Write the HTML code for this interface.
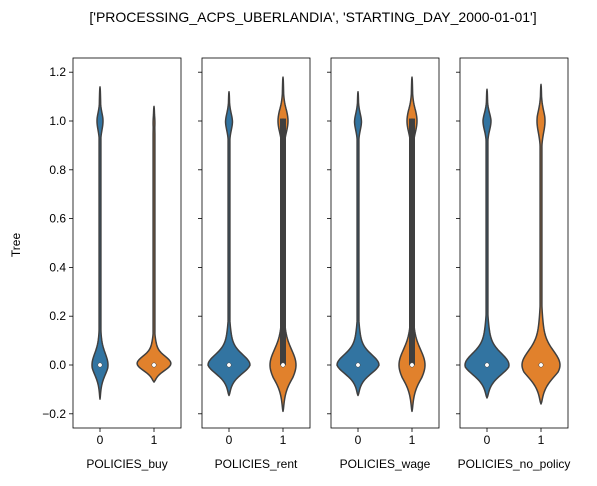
<!DOCTYPE html>
<html><head><meta charset="utf-8"><style>
body{margin:0;background:#fff;font-family:"Liberation Sans","DejaVu Sans",sans-serif}
svg text{font-family:"Liberation Sans","DejaVu Sans",sans-serif;fill:#000}
</style></head><body>
<svg id="chart" width="597" height="481" viewBox="0 0 597 481" xmlns="http://www.w3.org/2000/svg">
<text x="313" y="22" font-size="14" text-anchor="middle">['PROCESSING_ACPS_UBERLANDIA', 'STARTING_DAY_2000-01-01']</text>
<text transform="translate(20,245) rotate(-90)" font-size="12" text-anchor="middle">Tree</text>
</svg>
<script>
// data
const panels = ["POLICIES_buy","POLICIES_rent","POLICIES_wage","POLICIES_no_policy"];
const categories = ["0","1"];
const yTicks = [-0.2,0,0.2,0.4,0.6,0.8,1.0,1.2];
const yTickLabels = ["\u22120.2","0.0","0.2","0.4","0.6","0.8","1.0","1.2"];
// per violin (panel-major: p0c0,p0c1,p1c0,...)
const vMin   = [-0.14,-0.07,-0.125,-0.19,-0.125,-0.19,-0.135,-0.16];
const vMax   = [1.14,1.06,1.12,1.18,1.12,1.18,1.13,1.15];
const dens0  = [8,21,21,13,21,13,22,19];     // density at 0
const sd0    = [0.045,0.028,0.04,0.06,0.04,0.06,0.045,0.055];
const dens1  = [3,1.2,3.5,5,3.5,5,4,4];       // density at 1
const sd1    = [0.035,0.03,0.035,0.045,0.035,0.045,0.035,0.045];
const q1     = [0,0,0,0,0,0,0,0];
const q3     = [0,0,0,1.01,0,1.01,0,0];
const median = [0,0,0,0,0,0,0,0];

const svg=document.getElementById('chart');
const NS='http://www.w3.org/2000/svg';
const plotTop=58,bot=428,pw=108,lefts=[73,202,331,460];
const yS=v=>365-v*244;
function mk(t,a,p){const e=document.createElementNS(NS,t);for(const k in a)e.setAttribute(k,a[k]);(p||svg).appendChild(e);return e;}
function bump(x,s){return 0.75*Math.exp(-x*x/(2*s*s))+0.25*Math.exp(-x*x/(2*5.8*s*s));}
const colors=["#3274a1","#e1812c"];
panels.forEach((pn,pi)=>{
  const L=lefts[pi];
  const g=mk('g',{});
  
  
  categories.forEach((c,ci)=>{
    const i=pi*2+ci, cx=L+pw*(ci*2+1)/4;
    const pts=[];const N=160;
    for(let k=0;k<=N;k++){const v=vMin[i]+(vMax[i]-vMin[i])*k/N;
      let w=dens0[i]*bump(v,sd0[i])+dens1[i]*bump(v-1,sd1[i]);
      const t=Math.min(k,N-k)/N; w=Math.max(w,0.9)*Math.min(1,Math.sqrt(t*10));
      pts.push([v,w]);}
    let d='M'+pts.map(p=>(cx+p[1]).toFixed(2)+','+yS(p[0]).toFixed(2)).join('L');
    d+='L'+pts.slice().reverse().map(p=>(cx-p[1]).toFixed(2)+','+yS(p[0]).toFixed(2)).join('L')+'Z';
    const vp=mk('path',{d:d,fill:colors[ci],stroke:'#3f3f3f','stroke-width':1.5,'stroke-linejoin':'round'},g);
    
    
    if(q3[i]>q1[i]){
      const wl=mk('line',{x1:cx,x2:cx,y1:yS(q1[i]),y2:yS(q3[i]),stroke:'#3f3f3f','stroke-width':1.5},g);
      
      
      const bx=mk('rect',{x:cx-3,y:yS(q3[i]),width:6,height:yS(q1[i])-yS(q3[i]),fill:'#3f3f3f'},g);
      
      }
    const md=mk('circle',{cx:cx,cy:yS(median[i]),r:2.2,fill:'#fff',stroke:'#3f3f3f','stroke-width':0.5},g);
    
    
    mk('line',{x1:cx,x2:cx,y1:bot,y2:bot+4,stroke:'#000','stroke-width':0.8},g);
    const tl=mk('text',{x:cx,y:bot+16,'font-size':12,'text-anchor':'middle'},g);tl.textContent=c;
    
    
  });
  const fr=mk('rect',{x:L,y:plotTop,width:pw,height:bot-plotTop,fill:'none',stroke:'#000','stroke-width':0.8},g);
  
  
  yTicks.forEach((t,ti)=>{mk('line',{x1:L-4,x2:L,y1:yS(t),y2:yS(t),stroke:'#000','stroke-width':0.8},g);
    if(pi===0){const tx=mk('text',{x:L-7,y:yS(t)+4,'font-size':12,'text-anchor':'end'},g);tx.textContent=yTickLabels[ti];
      
      }});
  const xl=mk('text',{x:L+pw/2,y:bot+40,'font-size':12,'text-anchor':'middle'},g);xl.textContent=pn;
  
  
});
</script>
</body></html>
